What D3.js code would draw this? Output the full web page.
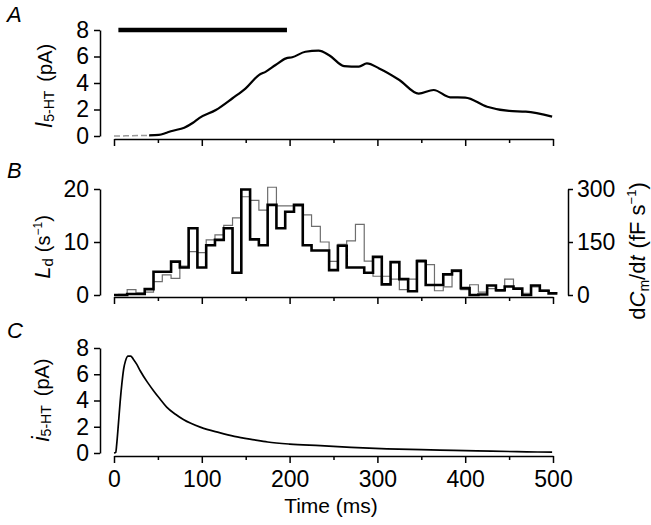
<!DOCTYPE html>
<html><head><meta charset="utf-8">
<script src="https://cdn.jsdelivr.net/npm/d3@7/dist/d3.min.js"></script>
<style>
body{margin:0;background:#fff;}
svg{display:block;font-family:"Liberation Sans",Arial,Helvetica,sans-serif;}
</style></head><body>
<svg id="chart" width="651" height="525"></svg>
<script>
// ---------- data ----------
const timeTicks = [0,100,200,300,400,500];
const timeMinorTicks = [50,150,250,350,450];
const stimulus = [5,197];           // ms, bar in panel A
const stimulusLevel = 8;            // pA level where the bar sits
const aTime    = [0,20,40,51,60,66,80,90,97,116,135,150,165,173,184,196,203,218,233,245,262,279,288,302,325,347,364,383,400,425,450,469,499];
const aCurrent = [0,0.02,0.05,0.08,0.25,0.38,0.63,1.0,1.35,1.96,2.85,3.6,4.6,4.86,5.36,5.86,5.94,6.36,6.44,6.1,5.28,5.23,5.48,5.1,4.23,3.2,3.47,2.92,2.9,2.21,1.89,1.84,1.46];
const yTicksA = [0,2,4,6,8];

const binCenters = [0,10,20,30,40,50,60,70,80,90,100,110,120,130,140,150,160,170,180,190,200,210,220,230,240,250,260,270,280,290,300,310,320,330,340,350,360,370,380,390,400,410,420,430,440,450,460,470,480,490,500];
const ldRate = [0,0,0.2,0.2,1.1,4.4,4.4,6.3,5.2,12.6,5.2,9.4,10.4,12.6,4.2,19.9,10.5,9.4,17,12.6,15.7,17,9.4,8.4,8.4,4.7,9.3,5.2,5.2,4.2,7.2,2.0,6.2,3.0,0.7,6.4,1.9,1.9,3.9,4.6,1.3,0,0.1,1.8,0.9,1.6,1.2,0,1.8,0.8,0.3];
const dCmdt  = [0,2,15,6,8,38,57,47,82,123,120,156,170,197,218,278,268,240,305,252,252,252,227,194,150,95,143,153,200,96,53,53,45,15,45,99,86,12,23,66,15,29,8,18,11,45,18,5,23,14,6];
const yTicksBLeft = [0,10,20];
const yTicksBRight = [0,150,300];

const cTime    = [0,2,3,5,7,9,11,13,16,19,22,26,30,38,45,52,60,70,79,99,120,137,160,175,200,235,270,311,350,387,430,470,499];
const cCurrent = [0,0.05,0.6,2.2,3.9,5.3,6.4,7.0,7.38,7.38,7.15,6.75,6.25,5.4,4.75,4.15,3.5,2.95,2.55,1.95,1.55,1.27,1.0,0.84,0.68,0.56,0.43,0.32,0.25,0.2,0.14,0.09,0.06];
const yTicksC = [0,2,4,6,8];

// ---------- layout ----------
const svg = d3.select("#chart");
const x = d3.scaleLinear().domain([0,500]).range([114,553]);
const yA = d3.scaleLinear().domain([0,8]).range([136,30]);
const yB = d3.scaleLinear().domain([0,20]).range([295,189]);
const yBr = d3.scaleLinear().domain([0,300]).range([295,189]);
const yC = d3.scaleLinear().domain([0,8]).range([453,348]);
const TICKFONT = 23;

function styleAxis(g){
  g.selectAll("path.domain").attr("stroke","#000").attr("stroke-width",1.5);
  g.selectAll(".tick line").attr("stroke","#000").attr("stroke-width",1.5);
  g.selectAll(".tick text").attr("fill","#000").style("font-size",TICKFONT+"px");
}
function timeAxis(yPos, labels){
  const g = svg.append("g").attr("transform",`translate(0,${yPos})`);
  g.call(d3.axisBottom(x).tickValues(timeTicks).tickSize(7).tickSizeOuter(0).tickPadding(8)
      .tickFormat(labels ? d3.format("d") : ""));
  styleAxis(g);
  const gm = svg.append("g").attr("transform",`translate(0,${yPos})`);
  gm.call(d3.axisBottom(x).tickValues(timeMinorTicks).tickSize(4).tickFormat(""));
  gm.select("path.domain").remove();
  styleAxis(gm);
  return g;
}
function leftAxis(scale, ticks){
  const g = svg.append("g").attr("transform","translate(100,0)");
  g.call(d3.axisLeft(scale).tickValues(ticks).tickSize(6).tickSizeOuter(0).tickPadding(5));
  styleAxis(g);
  return g;
}
function rotLabel(cx, cy, parts){
  const t = svg.append("text").attr("transform",`translate(${cx},${cy}) rotate(-90)`)
    .attr("text-anchor","middle").attr("fill","#000");
  parts.forEach(p=>{
    const s = t.append("tspan").text(p.t).style("font-size",(p.size||20)+"px");
    if(p.italic) s.style("font-style","italic");
    if(p.dy) s.attr("dy",p.dy);
    if(p.dx) s.attr("dx",p.dx);
  });
  return t;
}
function panelLetter(txt, px, py){
  svg.append("text").attr("x",px).attr("y",py).text(txt)
    .style("font-size","22px").style("font-style","italic").attr("fill","#000");
}

// ---------- Panel A ----------
panelLetter("A",7,22);
leftAxis(yA, yTicksA);
timeAxis(139,false);
svg.append("line")
  .attr("x1",x(stimulus[0])).attr("x2",x(stimulus[1]))
  .attr("y1",yA(stimulusLevel)).attr("y2",yA(stimulusLevel))
  .attr("stroke","#000").attr("stroke-width",4.5);
const aPts = aTime.map((t,i)=>[t,aCurrent[i]]);
const lineA = d3.line().x(d=>x(d[0])).y(d=>yA(d[1])).curve(d3.curveMonotoneX);
svg.append("path").datum(aPts.filter(d=>d[0]<=51))
  .attr("d",lineA).attr("fill","none").attr("stroke","#999").attr("stroke-width",1.5)
  .attr("stroke-dasharray","6,3");
svg.append("path").datum(aPts.filter(d=>d[0]>=40))
  .attr("d",lineA).attr("fill","none").attr("stroke","#000").attr("stroke-width",2.2);
rotLabel(52,86,[{t:"I",italic:true,size:23},{t:"5-HT",size:14,dy:2},{t:"(pA)",size:20,dy:-2,dx:9}]);

// ---------- Panel B ----------
panelLetter("B",7,178);
leftAxis(yB, yTicksBLeft);
const gR = svg.append("g").attr("transform","translate(568,0)");
gR.call(d3.axisRight(yBr).tickValues(yTicksBRight).tickSize(5).tickSizeOuter(0).tickPadding(4));
styleAxis(gR);
timeAxis(297,false);
function stepPoints(vals){
  const pts=[];
  binCenters.forEach((c,i)=>{ pts.push([Math.max(0,c-5),vals[i]]); pts.push([c+5,vals[i]]); });
  return pts;
}
svg.append("path").datum(stepPoints(dCmdt))
  .attr("d",d3.line().x(d=>x(d[0])).y(d=>yBr(d[1])))
  .attr("fill","none").attr("stroke","#6e6e6e").attr("stroke-width",1.2);
svg.append("path").datum(stepPoints(ldRate))
  .attr("d",d3.line().x(d=>x(d[0])).y(d=>yB(d[1])))
  .attr("fill","none").attr("stroke","#000").attr("stroke-width",2.6);
rotLabel(50,247,[{t:"L",italic:true,size:22},{t:"d",size:15,dy:3},{t:"(s",size:20,dy:-3,dx:6},{t:"\u22121",size:12,dy:-8},{t:")",size:20,dy:8}]);
rotLabel(645,251,[{t:"d",size:22},{t:"C",italic:true,size:22},{t:"m",size:14,dy:4},{t:"/d",size:22,dy:-4},{t:"t",italic:true,size:22},{t:"(fF s",size:22,dx:7},{t:"\u22121",size:13,dy:-9},{t:")",size:22,dy:9}]);

// ---------- Panel C ----------
panelLetter("C",7,338);
leftAxis(yC, yTicksC);
timeAxis(456,true);
const cPts = cTime.map((t,i)=>[t,cCurrent[i]]);
svg.append("path").datum(cPts)
  .attr("d",d3.line().x(d=>x(d[0])).y(d=>yC(d[1])).curve(d3.curveMonotoneX))
  .attr("fill","none").attr("stroke","#000").attr("stroke-width",1.7);
rotLabel(49,400,[{t:"i",italic:true,size:23},{t:"5-HT",size:14,dy:2},{t:"(pA)",size:20,dy:-2,dx:9}]);
svg.append("text").attr("x",331).attr("y",513).attr("text-anchor","middle")
  .style("font-size","21px").attr("fill","#000").text("Time (ms)");
</script>
</body></html>
